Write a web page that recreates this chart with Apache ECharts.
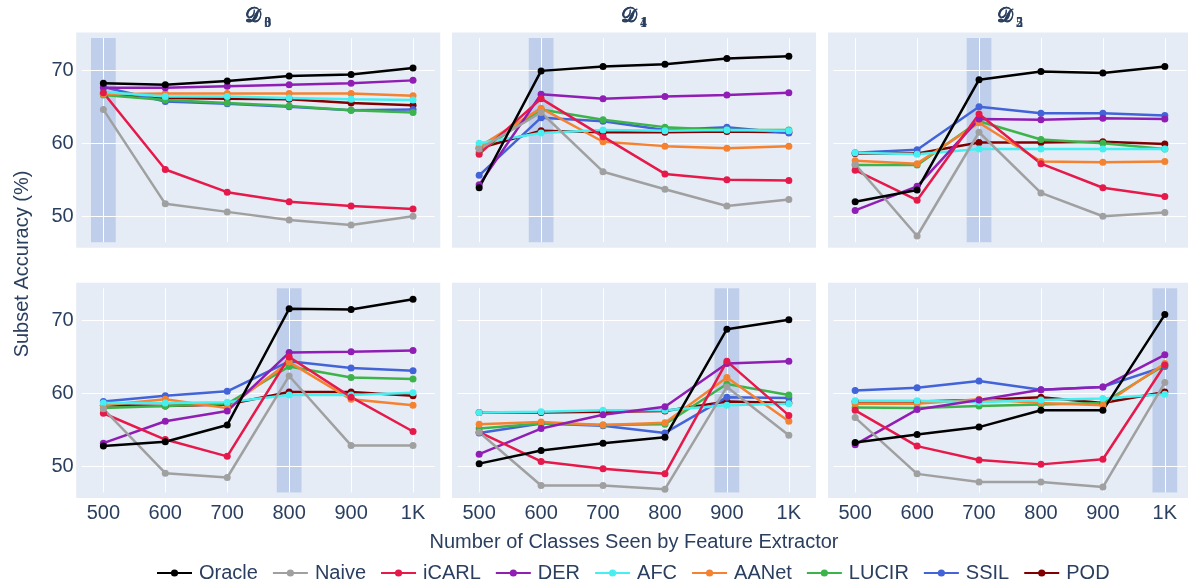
<!DOCTYPE html>
<html><head><meta charset="utf-8">
<script src="https://cdn.jsdelivr.net/npm/echarts@6/dist/echarts.min.js"></script>
<style>html,body{margin:0;padding:0;background:#fff}#c{width:1188px;height:583px}</style>
</head><body><div id="c"></div>
<script>
// ---------- DATA ----------
const categories = ['500', '600', '700', '800', '900', '1K'];
const panelSubscripts = ['0', '1', '2', '3', '4', '5'];
const highlightIndex = [0, 1, 2, 3, 4, 5];
const yTicks = [50, 60, 70];
const methods = ['Oracle', 'Naive', 'iCARL', 'DER', 'AFC', 'AANet', 'LUCIR', 'SSIL', 'POD'];

// each array: one row per panel D0..D5, six values per row (500..1K)
const oracle = [
  [68.2, 68.0, 68.5, 69.2, 69.4, 70.3],
  [53.9, 69.9, 70.5, 70.8, 71.6, 71.9],
  [52.0, 53.6, 68.7, 69.8, 69.6, 70.5],
  [52.8, 53.4, 55.7, 71.6, 71.5, 72.9],
  [50.4, 52.2, 53.2, 54.0, 68.8, 70.1],
  [53.3, 54.4, 55.4, 57.7, 57.7, 70.8]
];
const naive = [
  [64.6, 51.7, 50.6, 49.5, 48.8, 50.0],
  [59.2, 64.2, 56.1, 53.7, 51.4, 52.3],
  [57.1, 47.3, 61.5, 53.2, 50.0, 50.5],
  [57.9, 49.1, 48.5, 62.4, 52.9, 52.9],
  [54.7, 47.4, 47.4, 46.9, 60.9, 54.3],
  [56.7, 49.0, 47.9, 47.9, 47.2, 61.5]
];
const icarl = [
  [66.9, 56.4, 53.3, 52.0, 51.4, 51.0],
  [58.5, 66.1, 60.9, 55.8, 55.0, 54.9],
  [56.3, 52.2, 64.0, 57.2, 53.9, 52.7],
  [57.3, 53.7, 51.4, 65.0, 59.5, 54.8],
  [54.7, 50.7, 49.7, 49.0, 64.4, 57.0],
  [57.7, 52.8, 50.9, 50.3, 51.0, 63.9]
];
const der = [
  [67.6, 67.6, 67.8, 68.0, 68.2, 68.6],
  [54.3, 66.7, 66.1, 66.4, 66.6, 66.9],
  [50.8, 54.1, 63.3, 63.2, 63.4, 63.3],
  [53.2, 56.2, 57.6, 65.6, 65.7, 65.9],
  [51.7, 55.2, 57.1, 58.2, 64.1, 64.4],
  [53.0, 57.8, 59.1, 60.5, 60.9, 65.3]
];
const afc = [
  [67.0, 66.4, 66.4, 66.2, 66.0, 65.9],
  [60.0, 61.4, 61.8, 61.7, 61.8, 61.7],
  [58.7, 58.5, 59.2, 59.2, 59.2, 59.2],
  [58.7, 58.7, 58.8, 59.8, 59.8, 60.1],
  [57.4, 57.5, 57.7, 57.7, 58.4, 58.6],
  [59.0, 59.0, 58.8, 59.1, 59.3, 59.9]
];
const aanet = [
  [66.7, 66.8, 66.8, 66.8, 66.8, 66.5],
  [59.5, 64.8, 60.2, 59.6, 59.3, 59.6],
  [57.6, 57.2, 62.8, 57.5, 57.4, 57.5],
  [58.4, 59.2, 58.0, 64.3, 59.2, 58.4],
  [55.8, 56.1, 55.7, 56.0, 62.2, 56.2],
  [58.6, 58.6, 59.2, 58.7, 58.4, 64.1]
];
const lucir = [
  [66.6, 65.9, 65.5, 65.1, 64.5, 64.2],
  [58.8, 64.6, 63.2, 62.2, 61.8, 61.8],
  [57.0, 57.0, 63.0, 60.5, 60.0, 59.2],
  [58.0, 58.3, 58.6, 63.7, 62.2, 62.0],
  [55.2, 55.9, 55.7, 55.8, 61.3, 59.8],
  [58.1, 58.0, 58.3, 58.5, 58.7, 63.9]
];
const ssil = [
  [67.7, 65.7, 65.4, 65.0, 64.5, 64.6],
  [55.6, 63.5, 63.0, 61.8, 62.2, 61.4],
  [58.7, 59.1, 65.0, 64.1, 64.1, 63.8],
  [58.9, 59.7, 60.3, 64.4, 63.5, 63.1],
  [54.6, 55.9, 55.6, 54.6, 59.5, 59.4],
  [60.4, 60.8, 61.7, 60.5, 60.9, 63.7]
];
const pod = [
  [66.8, 66.2, 66.1, 66.0, 65.5, 65.2],
  [59.3, 61.7, 61.5, 61.5, 61.6, 61.5],
  [58.6, 58.6, 60.1, 60.1, 60.2, 59.9],
  [58.4, 58.3, 58.5, 60.2, 60.2, 59.7],
  [57.4, 57.4, 57.5, 57.6, 58.9, 58.7],
  [58.9, 58.9, 59.1, 59.5, 58.7, 60.2]
];
const methodData = [oracle, naive, icarl, der, afc, aanet, lucir, ssil, pod];
const methodColors = ['#000000', '#a0a0a0', '#e6194b', '#911eb4', '#46f0f0', '#f58231', '#3cb44b', '#4363d8', '#800000'];

// ---------- LAYOUT ----------
const FONT = "'Liberation Sans', Arial, sans-serif";
const TXT = '#2a3f5f';
const colLeft = [81.7, 457.5, 833.5];
const innerW = 353;
const rowTop = [38, 288.3];
const innerH = 204.2;
const PAD = 5.5;

const chart = echarts.init(document.getElementById('c'), null, { renderer: 'canvas' });

const grids = [], xAxes = [], yAxes = [], series = [], graphics = [];
for (let p = 0; p < 6; p++) {
  const r = Math.floor(p / 3), c = p % 3;
  grids.push({ left: colLeft[c], top: rowTop[r], width: innerW, height: innerH, containLabel: false });
  graphics.push({
    type: 'rect', z: -10, silent: true,
    shape: { x: colLeft[c] - PAD, y: rowTop[r] - PAD, width: innerW + 2 * PAD, height: innerH + 2 * PAD },
    style: { fill: '#e5ecf6' }
  });
  const cx = colLeft[c] + innerW / 2;
  graphics.push({
    type: 'text', z: 10, silent: true, x: cx + 3, y: 17,
    style: { text: '\u{1D49F}', font: "bold 20px 'DejaVu Serif', 'DejaVu Sans', serif", fill: TXT, align: 'right', verticalAlign: 'middle' }
  });
  graphics.push({
    type: 'text', z: 10, silent: true, x: cx + 6, y: 23,
    style: { text: panelSubscripts[p], font: "bold 14px 'Liberation Serif', serif", fill: TXT, align: 'left', verticalAlign: 'middle' }
  });
  xAxes.push({
    gridIndex: p, type: 'value', min: -0.35, max: 5.35,
    axisLine: { show: false },
    axisTick: { show: false, customValues: [0, 1, 2, 3, 4, 5] },
    splitLine: { show: true, lineStyle: { color: '#ffffff', width: 1 } },
    axisLabel: {
      show: r === 1, customValues: [0, 1, 2, 3, 4, 5], margin: 11,
      formatter: v => categories[Math.round(v)] || '',
      fontSize: 20, color: TXT, fontFamily: FONT
    }
  });
  yAxes.push({
    gridIndex: p, type: 'value', min: 46.45, max: 74.4,
    axisLine: { show: false },
    axisTick: { show: false, customValues: yTicks },
    splitLine: { show: true, lineStyle: { color: '#ffffff', width: 1 } },
    axisLabel: { show: c === 0, customValues: yTicks, margin: 8, fontSize: 20, color: TXT, fontFamily: FONT }
  });
  // highlighted column band
  series.push({
    type: 'custom', xAxisIndex: p, yAxisIndex: p, z: -1, silent: true,
    data: [[highlightIndex[p], 60]],
    renderItem: (params, api) => {
      const cs = params.coordSys;
      const x0 = api.coord([api.value(0) - 0.2, 60])[0];
      const x1 = api.coord([api.value(0) + 0.2, 60])[0];
      return { type: 'rect', shape: { x: x0, y: cs.y, width: x1 - x0, height: cs.height }, style: { fill: '#bfcfeb' } };
    }
  });
  // lines: drawn in reverse so Oracle ends up on top
  for (let m = methods.length - 1; m >= 0; m--) {
    series.push({
      name: methods[m], type: 'line', xAxisIndex: p, yAxisIndex: p,
      data: methodData[m][p].map((v, i) => [i, v]),
      symbol: 'circle', symbolSize: 7, showSymbol: true,
      lineStyle: { width: 2.5, color: methodColors[m] },
      itemStyle: { color: methodColors[m] },
      emphasis: { disabled: true }, z: 2
    });
  }
}

graphics.push({
  type: 'text', silent: true, x: 22, y: 264, rotation: Math.PI / 2,
  style: { text: 'Subset Accuracy (%)', font: "20px " + FONT, fill: TXT, align: 'center', verticalAlign: 'middle' }
});
graphics.push({
  type: 'text', silent: true, x: 634, y: 542,
  style: { text: 'Number of Classes Seen by Feature Extractor', font: "20px " + FONT, fill: TXT, align: 'center', verticalAlign: 'middle' }
});

chart.setOption({
  animation: false,
  backgroundColor: '#ffffff',
  grid: grids, xAxis: xAxes, yAxis: yAxes, series: series,
  graphic: { elements: graphics },
  legend: {
    data: methods, left: 156, top: 563, orient: 'horizontal', padding: 0,
    itemWidth: 35, itemHeight: 9, itemGap: 14,
    textStyle: { fontSize: 20, color: TXT, fontFamily: FONT, padding: [0, 0, 0, 2] },
    selectedMode: false
  },
  tooltip: { show: false }
});
</script></body></html>
